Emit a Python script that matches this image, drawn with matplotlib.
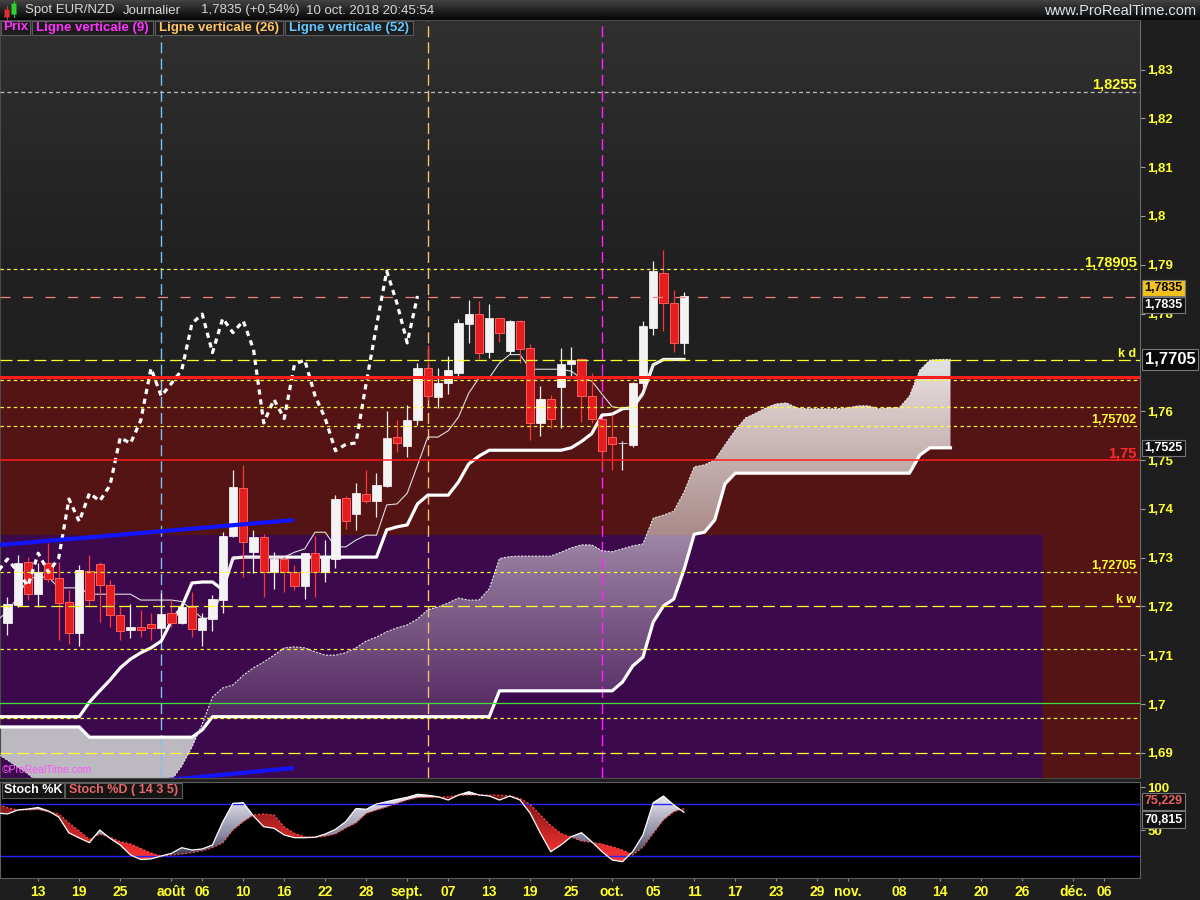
import numpy as np
import matplotlib
matplotlib.use("Agg")
import matplotlib.pyplot as plt
from matplotlib.path import Path
from matplotlib.patches import PathPatch, Rectangle
from matplotlib.colors import to_rgb
from matplotlib.transforms import blended_transform_factory

plt.rcParams["font.family"] = ["Liberation Sans", "DejaVu Sans"]
plt.rcParams["lines.scale_dashes"] = False

# daily bars, bar 0 = Tue 10 Jul 2018 (weekdays only), last bar = Wed 10 Oct 2018
opens = [1.7167, 1.7203, 1.7290, 1.7225, 1.7289, 1.7258, 1.7210, 1.7145, 1.7273, 1.7286,
         1.7243, 1.7182, 1.7151, 1.7158, 1.7163, 1.7155, 1.7186, 1.7165, 1.7198, 1.7152,
         1.7174, 1.7213, 1.7345, 1.7443, 1.7311, 1.7342, 1.7270, 1.7297, 1.7271, 1.7242,
         1.7309, 1.7270, 1.7297, 1.7422, 1.7389, 1.7430, 1.7415, 1.7447, 1.7548, 1.7529,
         1.7581, 1.7688, 1.7630, 1.7657, 1.7679, 1.7779, 1.7799, 1.7722, 1.7790, 1.7724,
         1.7785, 1.7729, 1.7576, 1.7624, 1.7650, 1.7697, 1.7706, 1.7632, 1.7585, 1.7547,
         1.7534, 1.7531, 1.7658, 1.7771, 1.7883, 1.7821, 1.7740]
highs = [1.7220, 1.7305, 1.7302, 1.7288, 1.7329, 1.7292, 1.7234, 1.7285, 1.7305, 1.7292,
         1.7254, 1.7199, 1.7205, 1.7193, 1.7187, 1.7227, 1.7213, 1.7207, 1.7230, 1.7186,
         1.7223, 1.7353, 1.7480, 1.7490, 1.7357, 1.7348, 1.7311, 1.7302, 1.7285, 1.7310,
         1.7345, 1.7336, 1.7428, 1.7426, 1.7452, 1.7480, 1.7473, 1.7600, 1.7582, 1.7613,
         1.7699, 1.7736, 1.7688, 1.7713, 1.7788, 1.7828, 1.7826, 1.7820, 1.7791, 1.7787,
         1.7787, 1.7738, 1.7652, 1.7633, 1.7729, 1.7732, 1.7709, 1.7678, 1.7586, 1.7592,
         1.7538, 1.7660, 1.7785, 1.7908, 1.7930, 1.7848, 1.7844]
lows = [1.7141, 1.7199, 1.7213, 1.7199, 1.7250, 1.7131, 1.7124, 1.7119, 1.7198, 1.7169,
        1.7158, 1.7131, 1.7135, 1.7137, 1.7131, 1.7137, 1.7158, 1.7164, 1.7138, 1.7119,
        1.7150, 1.7186, 1.7343, 1.7260, 1.7268, 1.7220, 1.7235, 1.7230, 1.7234, 1.7215,
        1.7220, 1.7249, 1.7279, 1.7358, 1.7357, 1.7411, 1.7384, 1.7445, 1.7517, 1.7507,
        1.7572, 1.7622, 1.7606, 1.7635, 1.7669, 1.7740, 1.7706, 1.7708, 1.7742, 1.7717,
        1.7698, 1.7542, 1.7549, 1.7566, 1.7566, 1.7669, 1.7578, 1.7575, 1.7483, 1.7480,
        1.7480, 1.7527, 1.7650, 1.7756, 1.7765, 1.7722, 1.7717]
closes = [1.7205, 1.7289, 1.7225, 1.7271, 1.7256, 1.7208, 1.7145, 1.7275, 1.7213, 1.7244,
          1.7182, 1.7150, 1.7158, 1.7151, 1.7155, 1.7184, 1.7167, 1.7199, 1.7153, 1.7176,
          1.7215, 1.7344, 1.7445, 1.7331, 1.7342, 1.7270, 1.7297, 1.7271, 1.7242, 1.7309,
          1.7270, 1.7299, 1.7420, 1.7374, 1.7432, 1.7416, 1.7448, 1.7546, 1.7534, 1.7581,
          1.7688, 1.7631, 1.7657, 1.7684, 1.7780, 1.7799, 1.7720, 1.7790, 1.7761, 1.7785,
          1.7727, 1.7576, 1.7624, 1.7585, 1.7696, 1.7705, 1.7632, 1.7585, 1.7519, 1.7532,
          1.7535, 1.7658, 1.7775, 1.7887, 1.7821, 1.7740, 1.7836]

# ichimoku lines as drawn, first value at bar -1
tenkan = [1.7172, 1.7189, 1.7219, 1.7258, 1.7260, 1.7260, 1.7238, 1.7238, 1.7238, 1.7225,
          1.7225, 1.7225, 1.7225, 1.7225, 1.7213, 1.7213, 1.7213, 1.7213, 1.7210, 1.7193,
          1.7176, 1.7176, 1.7236, 1.7301, 1.7301, 1.7301, 1.7301, 1.7301, 1.7301, 1.7311,
          1.7318, 1.7352, 1.7352, 1.7322, 1.7322, 1.7336, 1.7346, 1.7346, 1.7408, 1.7410,
          1.7432, 1.7489, 1.7547, 1.7547, 1.7560, 1.7588, 1.7637, 1.7668, 1.7668, 1.7699,
          1.7716, 1.7716, 1.7686, 1.7686, 1.7686, 1.7686, 1.7682, 1.7667, 1.7662, 1.7635,
          1.7609, 1.7606, 1.7606, 1.7632, 1.7695, 1.7706, 1.7706, 1.7706]
kijun = [1.6974, 1.6974, 1.6974, 1.6974, 1.6974, 1.6974, 1.6974, 1.6974, 1.6974, 1.7004,
         1.7027, 1.7049, 1.7074, 1.7092, 1.7105, 1.7115, 1.7129, 1.7170, 1.7199, 1.7248,
         1.7250, 1.7250, 1.7234, 1.7299, 1.7301, 1.7301, 1.7301, 1.7301, 1.7301, 1.7301,
         1.7301, 1.7301, 1.7301, 1.7301, 1.7301, 1.7301, 1.7301, 1.7301, 1.7357, 1.7363,
         1.7367, 1.7410, 1.7428, 1.7428, 1.7428, 1.7455, 1.7492, 1.7508, 1.7520, 1.7520,
         1.7520, 1.7520, 1.7520, 1.7520, 1.7520, 1.7520, 1.7525, 1.7538, 1.7554, 1.7592,
         1.7594, 1.7605, 1.7607, 1.7637, 1.7695, 1.7706, 1.7706, 1.7706]
# cloud spans, first value at bar -1, last at bar 92 (26 bars ahead)
span_a = [1.6898, 1.6885, 1.6871, 1.6857, 1.6840, 1.6830, 1.6822, 1.6818, 1.6815, 1.6812,
          1.6812, 1.6815, 1.6815, 1.6818, 1.6820, 1.6826, 1.6834, 1.6844, 1.6873, 1.6912,
          1.6959, 1.7014, 1.7033, 1.7039, 1.7059, 1.7074, 1.7086, 1.7100, 1.7115, 1.7117,
          1.7115, 1.7107, 1.7100, 1.7100, 1.7105, 1.7115, 1.7129, 1.7137, 1.7148, 1.7156,
          1.7162, 1.7174, 1.7193, 1.7199, 1.7207, 1.7217, 1.7213, 1.7213, 1.7236, 1.7298,
          1.7302, 1.7303, 1.7303, 1.7303, 1.7303, 1.7311, 1.7320, 1.7326, 1.7326, 1.7314,
          1.7312, 1.7318, 1.7324, 1.7328, 1.7381, 1.7387, 1.7395, 1.7434, 1.7486, 1.7490,
          1.7500, 1.7531, 1.7561, 1.7586, 1.7596, 1.7607, 1.7615, 1.7617, 1.7607, 1.7605,
          1.7605, 1.7605, 1.7605, 1.7607, 1.7611, 1.7611, 1.7605, 1.7607, 1.7607, 1.7631,
          1.7684, 1.7705, 1.7706, 1.7706]
span_b = [1.6953, 1.6953, 1.6953, 1.6953, 1.6953, 1.6953, 1.6953, 1.6953, 1.6953, 1.6932,
          1.6932, 1.6932, 1.6932, 1.6932, 1.6932, 1.6932, 1.6932, 1.6932, 1.6932, 1.6932,
          1.6947, 1.6974, 1.6974, 1.6974, 1.6974, 1.6974, 1.6974, 1.6974, 1.6974, 1.6974,
          1.6974, 1.6974, 1.6974, 1.6974, 1.6974, 1.6974, 1.6974, 1.6974, 1.6974, 1.6974,
          1.6974, 1.6974, 1.6974, 1.6974, 1.6974, 1.6974, 1.6974, 1.6974, 1.6974, 1.7027,
          1.7027, 1.7027, 1.7027, 1.7027, 1.7027, 1.7027, 1.7027, 1.7027, 1.7027, 1.7027,
          1.7027, 1.7045, 1.7078, 1.7096, 1.7168, 1.7201, 1.7215, 1.7275, 1.7348, 1.7352,
          1.7377, 1.7451, 1.7473, 1.7473, 1.7473, 1.7473, 1.7473, 1.7473, 1.7473, 1.7473,
          1.7473, 1.7473, 1.7473, 1.7473, 1.7473, 1.7473, 1.7473, 1.7473, 1.7473, 1.7473,
          1.7510, 1.7525, 1.7525, 1.7525]

# stochastic 14 3 5, first value at bar -1
stoch_k = [70.0, 68.9, 73.5, 74.6, 76.4, 72.3, 65.4, 47.0, 41.2, 35.8,
           50.4, 40.8, 33.1, 21.6, 16.4, 17.0, 20.4, 23.5, 30.0, 27.3,
           28.5, 33.1, 59.7, 81.2, 81.9, 66.6, 54.2, 52.4, 44.7, 41.5,
           41.5, 42.0, 45.8, 51.2, 60.0, 75.2, 74.3, 80.4, 83.1, 85.8,
           88.1, 91.6, 90.5, 88.8, 85.0, 90.8, 94.6, 90.8, 89.6, 85.0,
           89.6, 85.0, 69.7, 46.6, 25.4, 33.1, 42.7, 47.3, 36.9, 25.4,
           15.8, 13.8, 25.4, 44.7, 81.9, 89.6, 79.3, 70.8]
stoch_d = [80.0, 76.0, 73.5, 73.5, 74.1, 71.5, 68.9, 58.5, 49.3, 39.5,
           45.8, 42.0, 36.9, 34.3, 29.1, 23.9, 20.4, 21.6, 22.7, 24.2,
           26.5, 30.0, 35.4, 50.4, 60.0, 67.7, 68.9, 67.7, 53.9, 46.4,
           42.7, 42.0, 43.2, 45.8, 52.7, 58.5, 69.5, 73.5, 77.0, 81.2,
           85.0, 87.9, 88.1, 88.1, 88.7, 90.6, 90.8, 90.8, 90.8, 90.5,
           89.6, 86.8, 79.8, 67.7, 55.6, 46.4, 42.3, 37.7, 36.0, 34.3,
           31.0, 27.3, 21.6, 30.8, 46.6, 62.0, 71.5, 75.2]

# hand drawn objects
yellow_short = [1.78905, 1.7664, 1.7609, 1.75702, 1.72705, 1.7112, 1.6971]
yellow_long = [1.7705, 1.72, 1.69]
gray_level = 1.8255
last_price = 1.7835
red_thick = 1.7670
red_thin = 1.75
green_level = 1.7002
level_labels = [("1,8255", 1.8255, 10.5), ("1,78905", 1.78905, 10.5), ("k d", 1.7705, 9),
                ("1,75702", 1.75702, 9), ("1,75", 1.75, 10.5), ("1,72705", 1.72705, 9),
                ("k w", 1.72, 9)]
vline_bars = [15, 41, 58]
trend_up_x = [-0.73, 27.95]
trend_up_y = [1.7326, 1.7377]
trend_dn_x = [15.0, 27.95]
trend_dn_y = [1.6843, 1.6869]
red_zone_top = 1.7670
purple_zone_top = 1.7346
purple_zone_end = 101.0

date_ticks = [3, 7, 11, 16, 19, 23, 27, 31, 35, 39, 43, 47, 51, 55, 59, 63, 67, 71, 75,
              79, 82, 87, 91, 95, 99, 104, 107]
date_labels = ["13", "19", "25", "août", "06", "10", "16", "22", "28", "sept.", "07", "13",
               "19", "25", "oct.", "05", "11", "17", "23", "29", "nov.", "08", "14", "20",
               "26", "déc.", "06"]
price_ticks = [1.69, 1.70, 1.71, 1.72, 1.73, 1.74, 1.75, 1.76, 1.78, 1.79, 1.80,
               1.81, 1.82, 1.83]

YEL = "#ffff2e"
XMIN, XMAX = -0.73, 110.49
PMIN, PMAX = 1.68484, 1.84016
SMIN, SMAX = -5.0, 105.8
W, H = 1200, 900


def px_box(x0, y0, x1, y1):
    return [x0 / W, 1 - y1 / H, (x1 - x0) / W, (y1 - y0) / H]


def ramp(values, stops, alpha=None):
    pos = [s[0] for s in stops]
    cols = np.array([to_rgb(s[1]) for s in stops])
    arr = np.ones((len(values), 1, 4))
    for ch in range(3):
        arr[:, 0, ch] = np.interp(values, pos, cols[:, ch])
    if alpha is not None:
        arr[:, 0, 3] = alpha
    return arr


def gradient_between(axis, x, y1, y2, mask, rgba, lo, hi, z):
    coll = axis.fill_between(x, y1, y2, where=mask, interpolate=True)
    paths = [p for p in coll.get_paths() if len(p.vertices)]
    coll.remove()
    if not paths:
        return
    clip = PathPatch(Path.make_compound_path(*paths), transform=axis.transData)
    x0, x1 = axis.get_xlim()
    im = axis.imshow(rgba, extent=(x0, x1, lo, hi), origin="lower", aspect="auto",
                     interpolation="bilinear", zorder=z)
    im.set_clip_path(clip)


fig = plt.figure(figsize=(12, 9), dpi=100, facecolor="#1e1e1e")
ax = fig.add_axes(px_box(0, 20, 1140, 778))
axs = fig.add_axes(px_box(0, 782, 1140, 878))
ax.set_xlim(XMIN, XMAX)
ax.set_ylim(PMIN, PMAX)
axs.set_xlim(XMIN, XMAX)
axs.set_ylim(SMIN, SMAX)

# ---------- price panel ----------
pv = np.linspace(PMIN, PMAX, 300)
ax.imshow(ramp(pv, [(1.79, "#202020"), (1.84, "#303030")]),
          extent=(XMIN, XMAX, PMIN, PMAX), origin="lower", aspect="auto", zorder=0)
ax.add_patch(Rectangle((XMIN, PMIN), XMAX - XMIN, red_zone_top - PMIN,
                       fc="#541414", ec="none", zorder=0.5))
ax.add_patch(Rectangle((XMIN, PMIN), purple_zone_end - XMIN, purple_zone_top - PMIN,
                       fc="#3c0a4c", ec="none", zorder=0.6))

ca, cb = np.array(span_a), np.array(span_b)
cx = np.arange(len(ca)) - 1
cloud_alpha = np.clip(0.15 + (pv - 1.70) / 0.07 * 0.72, 0.05, 0.92)
gradient_between(ax, cx, ca, cb, ca >= cb, ramp(pv, [(1.6, "#ffffff"), (1.9, "#ffffff")], cloud_alpha),
                 PMIN, PMAX, 1)
ax.fill_between(cx, ca, cb, where=ca < cb, interpolate=True, fc="#bdb9c1", ec="none", zorder=1)
ax.plot(cx, span_a, color="#e6e6e6", lw=0.8, ls=(0, (1.5, 1.0)), zorder=3)
ax.plot(cx, span_b, color="white", lw=2.3, zorder=3)

vcols = ["#7cc0ee", "#f2c070", "#ff22ff"]
for b, col in zip(vline_bars, vcols):
    ax.axvline(b, color=col, lw=1.0, ls=(0, (8, 3.6)), zorder=2)

ix = np.arange(len(tenkan)) - 1
ax.plot(ix, kijun, color="white", lw=2.3, zorder=4, solid_joinstyle="round")
ax.plot(ix, tenkan, color="#dddddd", lw=0.8, zorder=4)

o, h, l, c = map(np.array, (opens, highs, lows, closes))
bars = np.arange(len(c))
up = c >= o
lo_b = np.minimum(o, c)
ht_b = np.maximum(np.abs(c - o), 0.00018)
ax.vlines(bars[up], l[up], h[up], color="#f2f2f2", lw=0.9, zorder=5)
ax.vlines(bars[~up], l[~up], h[~up], color="#ff3434", lw=0.9, zorder=5)
ax.bar(bars[up], ht_b[up], 0.8, lo_b[up], color="#f3f3f3", edgecolor="#ffffff", lw=0.5, zorder=6)
ax.bar(bars[~up], ht_b[~up], 0.8, lo_b[~up], color="#e41e1e", edgecolor="#ff5a5a", lw=0.7, zorder=6)

# lagging line: the closes drawn 26 bars back
ax.plot(bars[25:] - 26, c[25:], color="white", lw=2.3, ls=(0, (3.8, 3.4)), zorder=6)

for lv in yellow_short:
    ax.axhline(lv, color=YEL, lw=0.9, ls=(0, (2.4, 2.4)), zorder=7)
for lv in yellow_long:
    ax.axhline(lv, color=YEL, lw=0.9, ls=(0, (8.6, 3.6)), zorder=7)
ax.axhline(gray_level, color="#bcbcbc", lw=0.9, ls=(0, (2.8, 2.2)), zorder=7)
ax.axhline(last_price, color="#f08282", lw=0.9, ls=(0, (7.2, 9.0)), zorder=7)
ax.axhline(red_thick, color="#ff1c1c", lw=2.2, zorder=7)
ax.axhline(red_thin, color="#ff1c1c", lw=1.1, zorder=7)
ax.axhline(green_level, color="#3ee03e", lw=0.9, zorder=7)

ax.plot(trend_up_x, trend_up_y, color="#1414ff", lw=3.0, solid_capstyle="butt", zorder=8)
ax.plot(trend_dn_x, trend_dn_y, color="#1414ff", lw=3.0, solid_capstyle="butt", zorder=8)

bt = blended_transform_factory(ax.transAxes, ax.transData)
for txt, lv, fs in level_labels:
    ax.text(0.997, lv, txt, transform=bt, ha="right", va="bottom", fontsize=fs,
            fontweight="bold", color="#ff2a2a" if txt == "1,75" else YEL, zorder=9)
ax.text(0.002, 0.004, "©ProRealTime.com", transform=ax.transAxes, ha="left", va="bottom",
        fontsize=7.5, color="#ff55ff", zorder=9)

ax.set_xticks([])
ax.set_yticks(price_ticks)
ax.set_yticklabels([f"{v:.2f}".rstrip("0").replace(".", ",") for v in price_ticks])
ax.yaxis.tick_right()
ax.tick_params(axis="y", colors="#9a9a9a", labelcolor=YEL, length=3.6, width=0.8,
               pad=1.5, labelsize=9.5)
for t in ax.get_yticklabels():
    t.set_fontweight("bold")
for side in ("left", "bottom", "top"):
    ax.spines[side].set_color("#4a4a4a")
ax.spines["right"].set_color("#6a6a6a")


def tag(axis, trans, val, text, fc, tc, dy, fs=9, z=20):
    axis.annotate(text, xy=(1.004, val), xycoords=trans, xytext=(0, dy),
                  textcoords="offset points", ha="left", va="center", fontsize=fs,
                  fontweight="bold", color=tc, annotation_clip=False, zorder=z,
                  bbox=dict(boxstyle="square,pad=0.18", fc=fc, ec="#767676", lw=0.8))


tag(ax, bt, last_price, "1,7835", "#f2c21a", "black", 6.0)
tag(ax, bt, last_price, "1,7835", "#111111", "white", -6.0)
tag(ax, bt, kijun[-1], "1,7705", "#080808", "white", 0, fs=12, z=21)
tag(ax, bt, span_b[-1], "1,7525", "#111111", "white", 0)

# ---------- stochastic panel ----------
axs.set_facecolor("black")
sk, sd = np.array(stoch_k), np.array(stoch_d)
sx = np.arange(len(sk)) - 1
sv = np.linspace(SMIN, SMAX, 200)
gradient_between(axs, sx, sk, sd, sk >= sd,
                 ramp(sv, [(15, "#2c2c44"), (45, "#8a8aa2"), (92, "#f0f0f8")]), SMIN, SMAX, 1)
gradient_between(axs, sx, sk, sd, sk < sd,
                 ramp(sv, [(15, "#ff3636"), (45, "#cc2626"), (92, "#6c1616")]), SMIN, SMAX, 1)
axs.plot(sx, sd, color="#ff4a4a", lw=0.9, ls=(0, (1.4, 1.4)), zorder=3)
axs.plot(sx, sk, color="white", lw=0.9, zorder=3)
axs.axhline(80, color="#2424ff", lw=1.0, zorder=2)
axs.axhline(20, color="#2424ff", lw=1.0, zorder=2)

axs.set_xticks(date_ticks)
axs.set_xticklabels(date_labels)
axs.tick_params(axis="x", colors="#8a8a8a", labelcolor=YEL, length=2.2, width=0.8,
                pad=2.5, labelsize=10)
axs.set_yticks([50, 100])
axs.set_yticklabels(["50", "100"])
axs.yaxis.tick_right()
axs.tick_params(axis="y", colors="#9a9a9a", labelcolor=YEL, length=3.6, width=0.8,
                pad=1.5, labelsize=9.5)
for t in axs.get_xticklabels() + axs.get_yticklabels():
    t.set_fontweight("bold")
for sp in axs.spines.values():
    sp.set_color("#5e5e5e")

st = blended_transform_factory(axs.transAxes, axs.transData)
tag(axs, st, stoch_d[-1], "75,229", "#111111", "#e86060", 5.2)
tag(axs, st, stoch_k[-1], "70,815", "#111111", "white", -5.2)

ax.set_xlim(XMIN, XMAX)
ax.set_ylim(PMIN, PMAX)
axs.set_xlim(XMIN, XMAX)
axs.set_ylim(SMIN, SMAX)

# ---------- header, legends (pixel overlay) ----------
ov = fig.add_axes([0, 0, 1, 1], zorder=10)
ov.set_axis_off()
gy = np.linspace(0, 1, 20)
ov.imshow(ramp(gy, [(0, "#424242"), (1, "#060606")]), extent=(0, W, 20, 0),
          origin="upper", aspect="auto", zorder=0)
ov.add_patch(Rectangle((4, 9), 5, 8, fc="#e03030", ec="#802020", lw=0.5))
ov.plot([6.5, 6.5], [6, 19], color="#e03030", lw=0.7)
ov.add_patch(Rectangle((11, 3), 5, 11, fc="#30d030", ec="#208020", lw=0.5))
ov.plot([13.5, 13.5], [1, 17], color="#30d030", lw=0.7)
for x0, txt in [(25, "Spot EUR/NZD"), (123, "Journalier"), (201, "1,7835 (+0,54%)"),
                (306, "10 oct. 2018 20:45:54")]:
    ov.text(x0, 10.5, txt, ha="left", va="center", fontsize=9.5, color="#d6d6d6")
ov.text(1196, 11, "www.ProRealTime.com", ha="right", va="center", fontsize=10.5,
        color="#dde4ee")

legend_boxes = [(1, 30, "Prix", "#ff33ff"), (32, 153, "Ligne verticale (9)", "#ff33ff"),
                (155, 283, "Ligne verticale (26)", "#ffc466"),
                (285, 413, "Ligne verticale (52)", "#66c8ff")]
for x0, x1, txt, col in legend_boxes:
    ov.add_patch(Rectangle((x0, 20.5), x1 - x0, 14, fc="#1c1c1c", ec="#5a5a5a", lw=0.8))
    ov.text((x0 + x1) / 2, 27.5, txt, ha="center", va="center", fontsize=9.5,
            fontweight="bold", color=col)

for x0, x1, txt, col in [(2, 64, "Stoch %K", "white"), (65, 182, "Stoch %D ( 14 3 5)", "#e86666")]:
    ov.add_patch(Rectangle((x0, 782.5), x1 - x0, 15, fc="#151515", ec="#5a5a5a", lw=0.8))
    ov.text((x0 + x1) / 2, 790, txt, ha="center", va="center", fontsize=9,
            fontweight="bold", color=col)

ov.set_xlim(0, W)
ov.set_ylim(H, 0)

fig.savefig("out.png", dpi=100, facecolor=fig.get_facecolor())
